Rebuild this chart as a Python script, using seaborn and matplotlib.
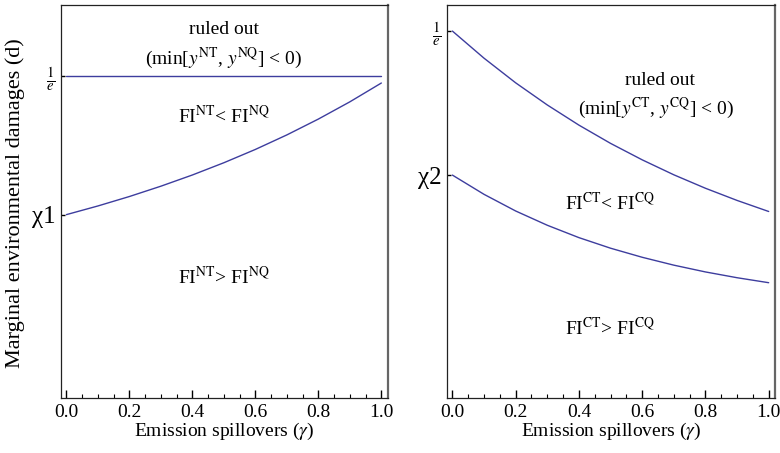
import pandas as pd
import seaborn as sns
import matplotlib.pyplot as plt
from matplotlib.ticker import MultipleLocator

# values
gamma = [0.0, 0.1, 0.2, 0.3, 0.4, 0.5, 0.6, 0.7, 0.8, 0.9, 1.0]
inv_e = 0.3679
chi1 = 0.2095
chi2 = 0.2235
bound_nt = [inv_e] * 11
fi_nt = [0.2095, 0.2194, 0.2302, 0.2420, 0.2548, 0.2688, 0.2840, 0.3006, 0.3187, 0.3384, 0.3599]
bound_ct = [0.3679, 0.3407, 0.316, 0.2938, 0.2736, 0.2553, 0.2388, 0.2238, 0.2103, 0.1981, 0.187]
fi_ct = [0.2235, 0.2042, 0.1875, 0.1732, 0.1608, 0.1502, 0.1411, 0.1332, 0.1264, 0.1206, 0.1156]

line_color = '#3d3d9e'

sns.set_theme(style='ticks')
plt.rcParams.update({
    'font.family': ['Liberation Serif', 'DejaVu Serif'],
    'mathtext.fontset': 'stix',
    'text.color': 'black',
    'axes.labelcolor': 'black',
    'xtick.color': 'black',
    'ytick.color': 'black',
})

fig = plt.figure(figsize=(7.8, 4.53), dpi=100)
ax1 = fig.add_axes([0.0778, 0.1214, 0.4192, 0.8675])
ax2 = fig.add_axes([0.5727, 0.1214, 0.4209, 0.8675])

df_nt = pd.DataFrame({'gamma': gamma, 'bound': bound_nt, 'fi': fi_nt})
df_ct = pd.DataFrame({'gamma': gamma, 'bound': bound_ct, 'fi': fi_ct})

for ax, df in [(ax1, df_nt), (ax2, df_ct)]:
    sns.lineplot(data=df, x='gamma', y='bound', ax=ax, color=line_color, lw=1.0)
    sns.lineplot(data=df, x='gamma', y='fi', ax=ax, color=line_color, lw=1.0)
    ax.set_xlim(-0.018, 1.02)
    ax.xaxis.set_major_locator(MultipleLocator(0.2))
    ax.xaxis.set_minor_locator(MultipleLocator(0.05))
    ax.xaxis.set_major_formatter(plt.FuncFormatter(lambda v, p: f'{v:.1f}'))
    ax.tick_params(axis='x', which='major', direction='in', length=5.5, width=1.0,
                   color='black', bottom=True, top=False, labelsize=14, pad=4)
    ax.tick_params(axis='x', which='minor', direction='in', length=3, width=0.8,
                   color='black', bottom=True, top=False)
    ax.tick_params(axis='y', which='major', direction='in', length=3, width=1.0,
                   color='black', left=True, right=False, pad=4)
    ax.set_xlabel(r'Emission spillovers ($\gamma$)', fontsize=14, labelpad=0)
    ax.set_ylabel('')
    for s in ax.spines.values():
        s.set_visible(True)
        s.set_color('#222222')
        s.set_linewidth(0.9)
    ax.spines['right'].set_color('#666666')
    ax.spines['right'].set_linewidth(1.6)
    # keep the inward ticks on top of everything
    for t in ax.xaxis.get_ticklines(minor=False) + ax.xaxis.get_ticklines(minor=True):
        t.set_clip_on(False)
        t.set_zorder(5)

ax1.set_ylim(0, 0.449)
ax2.set_ylim(0, 0.394)
ax1.set_yticks([chi1, inv_e])
ax1.set_yticklabels(['χ1', r'$\frac{1}{e}$'])
ax2.set_yticks([chi2, inv_e])
ax2.set_yticklabels(['χ2', r'$\frac{1}{e}$'])
for ax in (ax1, ax2):
    labs = ax.get_yticklabels()
    labs[0].set_fontsize(18)
    labs[1].set_fontsize(15)

fig.text(0.019, 0.552, 'Marginal environmental damages (d)', rotation=90,
         ha='center', va='center', fontsize=16)

fs = 14
ax1.text(0.5, 0.4206, 'ruled out', ha='center', va='center', fontsize=fs)
ax1.text(0.5, 0.3886, r'(min[$y^{\rm NT}$, $y^{\rm NQ}$] < 0)', ha='center', va='center', fontsize=fs)
ax1.text(0.5, 0.3223, r'FI$^{\rm NT}$< FI$^{\rm NQ}$', ha='center', va='center', fontsize=fs)
ax1.text(0.5, 0.1383, r'FI$^{\rm NT}$> FI$^{\rm NQ}$', ha='center', va='center', fontsize=fs)

ax2.text(0.655, 0.318, 'ruled out', ha='center', va='center', fontsize=fs)
ax2.text(0.645, 0.290, r'(min[$y^{\rm CT}$, $y^{\rm CQ}$] < 0)', ha='center', va='center', fontsize=fs)
ax2.text(0.5, 0.1955, r'FI$^{\rm CT}$< FI$^{\rm CQ}$', ha='center', va='center', fontsize=fs)
ax2.text(0.5, 0.0702, r'FI$^{\rm CT}$> FI$^{\rm CQ}$', ha='center', va='center', fontsize=fs)

fig.savefig('out.png', dpi=100)
